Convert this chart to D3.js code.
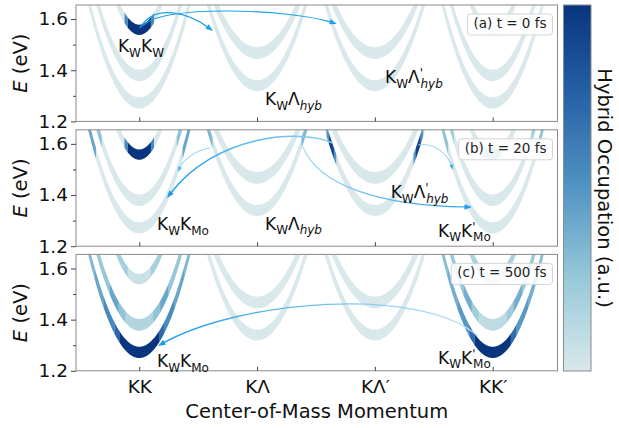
<!DOCTYPE html>
<html>
<head>
<meta charset="utf-8">
<script src="https://d3js.org/d3.v7.min.js"></script>
<style>
  body { margin: 0; background: white; }
  svg { font-family: "DejaVu Sans", sans-serif; }
</style>
</head>
<body>
<svg id="chart"></svg>
<script>
// ---- data ----
const valleyLabels = ["KK", "KΛ", "KΛ′", "KK′"];
const valleyPos = [0, 1, 2, 3];
const valleyType = ["KK", "KL", "KL", "KK"];
// bands: [energy at valley minimum, vertical width, curvature]
const bandsKK = [[1.250, 0.044, 2.15], [1.357, 0.045, 2.25], [1.538, 0.040, 3.0]];
const bandsKL = [[1.318, 0.043, 1.85], [1.444, 0.046, 1.55]];
const yTicks = [1.2, 1.4, 1.6];
const yMinor = [1.3, 1.5];
const panelTags = ["(a) t = 0 fs", "(b) t = 20 fs", "(c) t = 500 fs"];

// occupation: [valley, band, |k| from, |k| to, value]
const occA = [
  [0, 2, 0.00, 0.10, 1.0],
  [0, 2, 0.10, 0.125, 0.55]
];
const occB = [
  [0, 2, 0.00, 0.10, 1.0],
  [0, 2, 0.10, 0.125, 0.55],
  [0, 1, 0.32, 0.42, 0.28],
  [0, 0, 0.37, 0.47, 0.42],
  [1, 0, 0.38, 0.46, 0.33],
  [2, 0, 0.33, 0.35, 0.5],
  [2, 0, 0.35, 0.39, 0.92],
  [2, 0, 0.39, 0.41, 0.5],
  [3, 2, 0.00, 0.07, 0.3],
  [3, 1, 0.33, 0.42, 0.2],
  [3, 0, 0.38, 0.47, 0.28]
];
const occC = [
  [0, 0, 0.00, 0.17, 1.0],
  [0, 0, 0.17, 0.21, 0.72],
  [0, 0, 0.21, 0.30, 0.55],
  [0, 0, 0.30, 0.38, 0.42],
  [0, 0, 0.38, 0.47, 0.33],
  [0, 1, 0.00, 0.12, 0.15],
  [0, 1, 0.12, 0.18, 0.28],
  [0, 1, 0.18, 0.25, 0.42],
  [0, 1, 0.25, 0.42, 0.26],
  [0, 2, 0.00, 0.10, 0.06],
  [0, 2, 0.10, 0.25, 0.2],
  [3, 0, 0.00, 0.155, 1.0],
  [3, 0, 0.155, 0.20, 0.7],
  [3, 0, 0.20, 0.30, 0.48],
  [3, 0, 0.30, 0.38, 0.38],
  [3, 0, 0.38, 0.47, 0.3],
  [3, 1, 0.00, 0.12, 0.1],
  [3, 1, 0.12, 0.18, 0.22],
  [3, 1, 0.18, 0.25, 0.38],
  [3, 1, 0.25, 0.42, 0.25],
  [3, 2, 0.00, 0.10, 0.05],
  [3, 2, 0.10, 0.25, 0.18]
];
const occupations = [occA, occB, occC];

// arrows: cubic curves in (k, E): start, ctrl1, ctrl2, end
const arrowsA = [
  [[0.006, 1.565], [0.133, 1.667], [0.431, 1.620], [0.626, 1.553]],
  [[0.031, 1.573], [0.176, 1.659], [1.279, 1.639], [1.678, 1.581]]
];
const arrowsB = [
  [[0.602, 1.584], [0.473, 1.576], [0.371, 1.537], [0.329, 1.490]],
  [[1.644, 1.603], [1.364, 1.662], [0.643, 1.635], [0.235, 1.388]],
  [[2.366, 1.596], [2.510, 1.607], [2.620, 1.557], [2.663, 1.498]],
  [[1.390, 1.588], [1.517, 1.439], [2.043, 1.357], [2.824, 1.353]]
];
const arrowsC = [
  [[2.875, 1.336], [2.383, 1.535], [0.855, 1.477], [0.159, 1.297]]
];
const arrowSets = [arrowsA, arrowsB, arrowsC];
// arrow look: [line width, start colour, end colour]
const arrowStyleA = [[1.3, "#22a0e8", "#22a0e8"], [1.1, "#22a0e8", "#22a0e8"]];
const arrowStyleB = [[0.8, "#7ccaf2", "#4cb6ee"], [1.5, "#8fd0f4", "#1c9be6"],
                     [0.8, "#8fd0f4", "#45b2ec"], [1.2, "#a9daf6", "#1f9de6"]];
const arrowStyleC = [[1.3, "#bde3f8", "#1f9de6"]];
const arrowStyles = [arrowStyleA, arrowStyleB, arrowStyleC];

// state labels: parts [text, kind], anchored at (k, E)
const lblKWKW = [["K", "n"], ["W", "s"], ["K", "n"], ["W", "s"]];
const lblKWKMo = [["K", "n"], ["W", "s"], ["K", "n"], ["Mo", "s"]];
const lblKWKpMo = [["K", "n"], ["W", "s"], ["K", "n"], ["'", "p"], ["Mo", "s"]];
const lblKWL = [["K", "n"], ["W", "s"], ["Λ", "n"], ["hyb", "si"]];
const lblKWLp = [["K", "n"], ["W", "s"], ["Λ", "n"], ["'", "p"], ["hyb", "si"]];
const labelsA = [[lblKWKW, -0.181, 1.471], [lblKWL, 1.067, 1.263], [lblKWLp, 2.086, 1.349]];
const labelsB = [[lblKWKMo, 0.151, 1.263], [lblKWL, 1.067, 1.265], [lblKWLp, 2.134, 1.388], [lblKWKpMo, 2.536, 1.237]];
const labelsC = [[lblKWKMo, 0.151, 1.213], [lblKWKpMo, 2.536, 1.2275]];
const labelSets = [labelsA, labelsB, labelsC];

// ---- layout ----
const W = 619, H = 428;
const left = 76, right = 557.5;
const panelTop = [5, 129.8, 254.4];
const panelH = 116.4;
const eMin = 1.2, eMax = 1.655;

const svg = d3.select("#chart").attr("width", W).attr("height", H);

const x = d3.scaleLinear().domain([-0.537, 3.55]).range([left, right]);
const color = d3.scaleLinear()
  .domain([0, 0.25, 0.5, 0.75, 1])
  .range(["#d9e8eb", "#98c9d9", "#5294c3", "#2762a6", "#08357d"]);

const defs = svg.append("defs");

function drawBand(g, y, center, band, k0, k1, fill) {
  const [E0, w, a] = band;
  const ks = d3.range(k0, k1, 0.002);
  ks.push(k1);
  const area = d3.area()
    .x(k => x(center + k))
    .y0(k => y(E0 + a * k * k))
    .y1(k => y(E0 + w + a * k * k));
  g.append("path").attr("d", area(ks)).attr("fill", fill);
}

function drawLabel(g, px, py, parts) {
  const t = g.append("text").attr("x", px).attr("y", py).attr("fill", "#111");
  let cur = 0, prevPrime = false;
  parts.forEach(([s, kind]) => {
    let off = 0, size = 17, italic = false, dx = 0;
    if (kind === "s" || kind === "si") { off = 4.5; size = 12; italic = kind === "si"; }
    if (kind === "p") { off = -6; size = 12; }
    if (prevPrime) dx = -2.5;
    t.append("tspan")
      .attr("dy", off - cur)
      .attr("dx", dx)
      .attr("font-size", size)
      .attr("font-style", italic ? "italic" : "normal")
      .text(s);
    cur = off;
    prevPrime = kind === "p";
  });
}

panelTop.forEach((top, i) => {
  const y = d3.scaleLinear().domain([eMin, eMax]).range([top + panelH, top]);
  const g = svg.append("g");

  defs.append("clipPath").attr("id", "clip" + i)
    .append("rect").attr("x", left).attr("y", top)
    .attr("width", right - left).attr("height", panelH);

  const gb = g.append("g").attr("clip-path", "url(#clip" + i + ")");

  // light bands
  valleyPos.forEach((c, v) => {
    const bands = valleyType[v] === "KK" ? bandsKK : bandsKL;
    bands.forEach(b => {
      const kmax = Math.sqrt((eMax + 0.05 - b[0]) / b[2]);
      drawBand(gb, y, c, b, -kmax, kmax, color(0));
    });
  });

  // occupation on top
  occupations[i].forEach(([v, bi, kA, kB, val]) => {
    const bands = valleyType[v] === "KK" ? bandsKK : bandsKL;
    const b = bands[bi];
    const c = valleyPos[v];
    const fill = color(val);
    if (kA === 0) {
      drawBand(gb, y, c, b, -kB, kB, fill);
    } else {
      drawBand(gb, y, c, b, kA - 0.002, kB, fill);
      drawBand(gb, y, c, b, -kB, -kA + 0.002, fill);
    }
  });

  // frame
  g.append("rect").attr("x", left).attr("y", top)
    .attr("width", right - left).attr("height", panelH)
    .attr("fill", "none").attr("stroke", "#8a8a8a").attr("stroke-width", 1);

  // y axis
  const ya = g.append("g").attr("transform", `translate(${left},0)`)
    .call(d3.axisLeft(y).tickValues(yTicks).tickFormat(d3.format(".1f")).tickSize(5).tickPadding(3));
  ya.select(".domain").remove();
  ya.selectAll("line").attr("stroke", "#444");
  ya.selectAll("text").attr("font-size", 18.5).attr("fill", "#111")
    .attr("font-family", "DejaVu Sans");
  const ym = g.append("g").attr("transform", `translate(${left},0)`)
    .call(d3.axisLeft(y).tickValues(yMinor).tickFormat("").tickSize(3));
  ym.select(".domain").remove();
  ym.selectAll("line").attr("stroke", "#444");

  // x axis (ticks point inward)
  const xa = g.append("g").attr("transform", `translate(0,${top + panelH})`)
    .call(d3.axisBottom(x).tickValues(valleyPos)
      .tickFormat(i === 2 ? (d => valleyLabels[d]) : "")
      .tickSize(-4).tickPadding(9));
  xa.select(".domain").remove();
  xa.selectAll("line").attr("stroke", "#444");
  xa.selectAll("text").attr("font-size", 18.5).attr("fill", "#111")
    .attr("font-family", "DejaVu Sans");

  // y label
  const yl = g.append("text")
    .attr("transform", `translate(27,${top + panelH / 2}) rotate(-90)`)
    .attr("text-anchor", "middle").attr("font-size", 19.5).attr("fill", "#111");
  yl.append("tspan").attr("font-style", "italic").text("E");
  yl.append("tspan").text(" (eV)");

  // arrows
  arrowSets[i].forEach((pts, j) => {
    const [lw, c0, c1] = arrowStyles[i][j];
    const p = pts.map(d => [x(d[0]), y(d[1])]);
    const gid = "ag" + i + "_" + j;
    const grad = defs.append("linearGradient").attr("id", gid)
      .attr("gradientUnits", "userSpaceOnUse")
      .attr("x1", p[0][0]).attr("y1", p[0][1]).attr("x2", p[3][0]).attr("y2", p[3][1]);
    grad.append("stop").attr("offset", "0%").attr("stop-color", c0);
    grad.append("stop").attr("offset", "100%").attr("stop-color", c1);

    const dx = p[3][0] - p[2][0], dy = p[3][1] - p[2][1];
    const len = Math.hypot(dx, dy);
    const ux = dx / len, uy = dy / len;
    const hl = lw > 1 ? 7.5 : 5.5, hw = lw > 1 ? 2.8 : 2.1;
    const end = [p[3][0] - ux * hl * 0.7, p[3][1] - uy * hl * 0.7];
    const path = d3.path();
    path.moveTo(p[0][0], p[0][1]);
    path.bezierCurveTo(p[1][0], p[1][1], p[2][0], p[2][1], end[0], end[1]);
    g.append("path").attr("d", path.toString())
      .attr("fill", "none").attr("stroke", `url(#${gid})`).attr("stroke-width", lw);
    const bx = p[3][0] - ux * hl, by = p[3][1] - uy * hl;
    g.append("path")
      .attr("d", `M${p[3][0]},${p[3][1]}L${bx - uy * hw},${by + ux * hw}L${bx + uy * hw},${by - ux * hw}Z`)
      .attr("fill", c1);
  });

  // state labels
  labelSets[i].forEach(([parts, k, E]) => drawLabel(g, x(k), y(E), parts));

  // legend box
  const lg = g.append("g");
  const lt = lg.append("text").attr("font-size", 13.5).attr("fill", "#222")
    .attr("text-anchor", "end").attr("x", right - 11).attr("y", top + 23)
    .text(panelTags[i]);
  const bb = lt.node().getBBox();
  lg.insert("rect", "text")
    .attr("x", bb.x - 6).attr("y", top + 9)
    .attr("width", bb.width + 12).attr("height", 21)
    .attr("rx", 3).attr("fill", "white").attr("fill-opacity", 0.85)
    .attr("stroke", "#d4d4d4").attr("stroke-width", 1);
});

// x label
svg.append("text").attr("x", (left + right) / 2).attr("y", 418)
  .attr("text-anchor", "middle").attr("font-size", 19.5).attr("fill", "#111")
  .text("Center-of-Mass Momentum");

// colorbar
const cbX = 563.5, cbY = 5, cbW = 27.5, cbH = 366;
const cg = defs.append("linearGradient").attr("id", "cbar")
  .attr("x1", 0).attr("y1", 1).attr("x2", 0).attr("y2", 0);
color.domain().forEach(d => {
  cg.append("stop").attr("offset", (d * 100) + "%").attr("stop-color", color(d));
});
svg.append("rect").attr("x", cbX).attr("y", cbY).attr("width", cbW).attr("height", cbH)
  .attr("fill", "url(#cbar)").attr("stroke", "#8a8a8a").attr("stroke-width", 1);
svg.append("text")
  .attr("transform", `translate(598,${cbY + cbH / 2}) rotate(90)`)
  .attr("text-anchor", "middle").attr("font-size", 19.5).attr("fill", "#111")
  .text("Hybrid Occupation (a.u.)");
</script>
</body>
</html>
